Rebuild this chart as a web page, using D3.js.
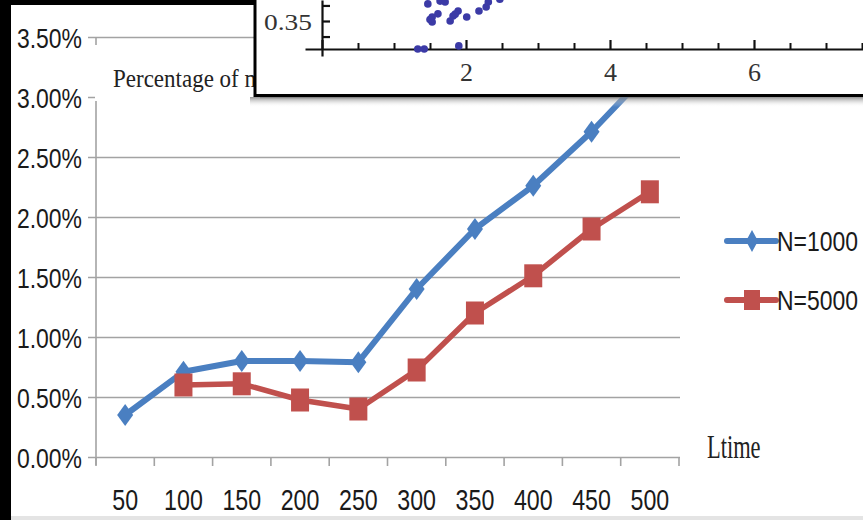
<!DOCTYPE html>
<html>
<head>
<meta charset="utf-8">
<script src="https://cdn.jsdelivr.net/npm/d3@7"></script>
<style>
  html, body { margin: 0; padding: 0; background: #fff; }
  svg { display: block; }
</style>
</head>
<body>
<svg id="chart" width="863" height="520"></svg>
<script>
// ---------- data ----------
const categories = ["50", "100", "150", "200", "250", "300", "350", "400", "450", "500"];
const seriesN1000 = [0.35, 0.71, 0.80, 0.80, 0.79, 1.40, 1.90, 2.26, 2.71, 3.22];
const seriesN5000 = [null, 0.60, 0.61, 0.475, 0.40, 0.725, 1.20, 1.51, 1.90, 2.21];
const seriesNames = ["N=1000", "N=5000"];
const yTickValues = [0, 0.5, 1.0, 1.5, 2.0, 2.5, 3.0, 3.5];
const xTitle = "Ltime";
const yTitle = "Percentage of misclassification";

// inset scatter (partially visible)
const insetXs = [1.33, 1.42, 1.90, 1.47, 1.64, 1.71, 1.53, 1.53, 1.61, 1.78, 1.82, 1.89, 2.01, 2.18, 2.28, 2.31, 2.47, 1.50, 1.85];
const insetYs = [0.26, 0.26, 0.27, 0.405, 0.414, 0.411, 0.363, 0.347, 0.373, 0.35, 0.366, 0.382, 0.363, 0.382, 0.395, 0.411, 0.42, 0.355, 0.372];
const insetXMajor = [0, 2, 4, 6, 8];
const insetXLabels = [2, 4, 6];
const insetXMinor = [0.5, 1, 1.5, 2.5, 3, 3.5, 4.5, 5, 5.5, 6.5, 7, 7.5];
const insetYTicks = [0.30, 0.35, 0.40];
const insetYLabels = [0.35];

// ---------- setup ----------
const svg = d3.select("#chart");
const blue = "#4a7fc1", red = "#c0504d";
const sansFont = "'Liberation Sans', Arial, sans-serif";
const serifFont = "'Liberation Serif', 'Times New Roman', serif";

svg.append("rect").attr("width", 863).attr("height", 520).attr("fill", "#fff");

const x = d3.scaleBand().domain(categories).range([96, 679]).padding(0);
const y = d3.scaleLinear().domain([0, 3.5]).range([457, 37]);

// gridlines + y axis labels
const yAxis = svg.append("g").attr("transform", "translate(96,0)")
  .call(d3.axisLeft(y).tickValues(yTickValues).tickSizeOuter(0)
    .tickFormat(d => d.toFixed(2) + "%"));
yAxis.select(".domain").remove();
yAxis.selectAll(".tick line")
  .attr("x1", -8).attr("x2", 584)
  .attr("stroke", "#a3a3a3").attr("stroke-width", 1.6);
yAxis.selectAll(".tick text")
  .attr("x", null).attr("dy", "0.36em")
  .attr("transform", "translate(-14,0) scale(0.82,1)")
  .attr("text-anchor", "end")
  .attr("font-family", sansFont).attr("font-size", 28).attr("fill", "#1a1a1a");

// vertical axis line
svg.append("line").attr("x1", 96).attr("x2", 96).attr("y1", y(3.5)).attr("y2", 465)
  .attr("stroke", "#a3a3a3").attr("stroke-width", 1.6);

// x axis ticks (at category boundaries)
const boundaries = categories.map(c => x(c)).concat([x.range()[1]]);
svg.append("g").selectAll("line").data(boundaries).join("line")
  .attr("x1", d => d).attr("x2", d => d).attr("y1", y(0)).attr("y2", y(0) + 9)
  .attr("stroke", "#a3a3a3").attr("stroke-width", 1.6);

// x axis labels
const xAxis = svg.append("g").attr("transform", `translate(0,${y(0)})`)
  .call(d3.axisBottom(x).tickSize(0));
xAxis.select(".domain").remove();
xAxis.selectAll(".tick text")
  .attr("y", null).attr("dy", null)
  .attr("transform", "translate(0,53) scale(0.8,1)")
  .attr("font-family", sansFont).attr("font-size", 29).attr("fill", "#1a1a1a");

// white box behind y title (covers axis / gridline)
svg.append("rect").attr("x", 95).attr("y", 45).attr("width", 165).attr("height", 56).attr("fill", "#fff");
svg.append("text").attr("transform", "translate(113,87) scale(0.92,1)")
  .attr("font-family", serifFont).attr("font-size", 25).attr("fill", "#222")
  .text(yTitle);

// x title
svg.append("text").attr("transform", "translate(707,458) scale(0.66,1)")
  .attr("font-family", serifFont).attr("font-size", 34).attr("fill", "#222")
  .text(xTitle);

// ---------- series ----------
const cx = c => x(c) + x.bandwidth() / 2;
const diamond = "M0,-11L8,0L0,11L-8,0Z";
const series = [
  { name: seriesNames[0], values: seriesN1000, color: blue, shape: "diamond", width: 6 },
  { name: seriesNames[1], values: seriesN5000, color: red, shape: "square", width: 5.5 }
];
const line = d3.line().defined(d => d.v != null).x(d => cx(d.c)).y(d => y(d.v));

series.forEach(s => {
  const pts = categories.map((c, i) => ({ c, v: s.values[i] }));
  const g = svg.append("g");
  g.append("path").datum(pts).attr("d", line)
    .attr("fill", "none").attr("stroke", s.color).attr("stroke-width", s.width)
    .attr("stroke-linejoin", "round");
  const valid = pts.filter(d => d.v != null);
  if (s.shape === "diamond") {
    g.selectAll("path.m").data(valid).join("path").attr("class", "m")
      .attr("d", diamond)
      .attr("transform", d => `translate(${cx(d.c)},${y(d.v)})`)
      .attr("fill", s.color);
  } else {
    g.selectAll("rect.m").data(valid).join("rect").attr("class", "m")
      .attr("x", d => cx(d.c) - 9).attr("y", d => y(d.v) - 11.5)
      .attr("width", 18).attr("height", 23)
      .attr("fill", s.color);
  }
});

// ---------- legend ----------
const legend = svg.append("g");
series.forEach((s, i) => {
  const ly = 241 + i * 59;
  const g = legend.append("g").attr("transform", `translate(0,${ly})`);
  g.append("line").attr("x1", 727).attr("x2", 776).attr("y1", 0).attr("y2", 0)
    .attr("stroke", s.color).attr("stroke-width", 6).attr("stroke-linecap", "round");
  if (s.shape === "diamond") {
    g.append("path").attr("d", "M0,-11L6,0L0,11L-6,0Z").attr("transform", "translate(752,0)").attr("fill", s.color);
  } else {
    g.append("rect").attr("x", 744).attr("y", -10).attr("width", 16).attr("height", 20).attr("fill", s.color);
  }
  g.append("text").attr("transform", "translate(777,0) scale(0.82,1)")
    .attr("dy", "0.36em")
    .attr("font-family", sansFont).attr("font-size", 28).attr("fill", "#1a1a1a")
    .text(s.name);
});

// ---------- frame ----------
svg.append("rect").attr("x", 0).attr("y", 0).attr("width", 11).attr("height", 520).attr("fill", "#000");
svg.append("rect").attr("x", 0).attr("y", 0).attr("width", 256).attr("height", 5).attr("fill", "#000");
svg.append("rect").attr("x", 11).attr("y", 516).attr("width", 852).attr("height", 4).attr("fill", "#e4e4e4");

// ---------- inset ----------
const defs = svg.append("defs");
const grad = defs.append("linearGradient").attr("id", "shadow").attr("x1", 0).attr("x2", 0).attr("y1", 0).attr("y2", 1);
grad.append("stop").attr("offset", "0%").attr("stop-color", "#777").attr("stop-opacity", 0.8);
grad.append("stop").attr("offset", "100%").attr("stop-color", "#fff").attr("stop-opacity", 0);
defs.append("clipPath").attr("id", "insetClip").append("rect")
  .attr("x", 256).attr("y", 0).attr("width", 607).attr("height", 94);

svg.append("rect").attr("x", 250).attr("y", 97).attr("width", 613).attr("height", 10).attr("fill", "url(#shadow)");
svg.append("rect").attr("x", 254).attr("y", 0).attr("width", 609).attr("height", 97).attr("fill", "#fff");

const inset = svg.append("g").attr("clip-path", "url(#insetClip)");
const ix = d3.scaleLinear().domain([-17 / 72, 541 / 72]).range([305, 863]);
const iy = d3.scaleLinear().domain([0.2375, 0.4175]).range([56, 0]);
const axisY = 49;

// inset x axis: major + minor ticks pointing up
const ixMajor = inset.append("g").attr("transform", `translate(0,${axisY})`)
  .call(d3.axisTop(ix).tickValues(insetXMajor).tickSize(9).tickSizeOuter(0).tickFormat(""));
ixMajor.select(".domain").attr("stroke", "#111").attr("stroke-width", 2.2);
ixMajor.selectAll(".tick line").attr("stroke", "#111").attr("stroke-width", 2.2);
const ixMinor = inset.append("g").attr("transform", `translate(0,${axisY})`)
  .call(d3.axisTop(ix).tickValues(insetXMinor).tickSize(6).tickFormat(""));
ixMinor.select(".domain").remove();
ixMinor.selectAll(".tick line").attr("stroke", "#111").attr("stroke-width", 2);
const ixLab = inset.append("g").attr("transform", `translate(0,${axisY})`)
  .call(d3.axisBottom(ix).tickValues(insetXLabels).tickSize(0));
ixLab.select(".domain").remove();
ixLab.selectAll(".tick text").attr("y", 32).attr("dy", null)
  .attr("font-family", serifFont).attr("font-size", 26).attr("fill", "#333");

// inset y axis
const iyAx = inset.append("g").attr("transform", "translate(322,0)")
  .call(d3.axisRight(iy).tickValues(insetYTicks).tickSize(8).tickSizeOuter(0).tickFormat(""));
iyAx.select(".domain").attr("stroke", "#111").attr("stroke-width", 2.2);
iyAx.selectAll(".tick line").attr("stroke", "#111").attr("stroke-width", 2.2);
const iyLab = inset.append("g").attr("transform", "translate(322,0)")
  .call(d3.axisLeft(iy).tickValues(insetYLabels).tickSize(0).tickFormat(d3.format(".2f")));
iyLab.select(".domain").remove();
iyLab.selectAll(".tick text").attr("x", -10).attr("dy", "0.34em")
  .attr("textLength", 48).attr("lengthAdjust", "spacingAndGlyphs")
  .attr("font-family", serifFont).attr("font-size", 24).attr("fill", "#333");

// inset dots
inset.append("g").selectAll("circle").data(insetXs.map((v, i) => [v, insetYs[i]])).join("circle")
  .attr("cx", d => ix(d[0])).attr("cy", d => iy(d[1])).attr("r", 3.8)
  .attr("fill", "#3b3aa6");

// inset border
svg.append("line").attr("x1", 255).attr("x2", 255).attr("y1", 0).attr("y2", 97)
  .attr("stroke", "#000").attr("stroke-width", 3);
svg.append("line").attr("x1", 254).attr("x2", 863).attr("y1", 95.5).attr("y2", 95.5)
  .attr("stroke", "#000").attr("stroke-width", 3);
</script>
</body>
</html>
